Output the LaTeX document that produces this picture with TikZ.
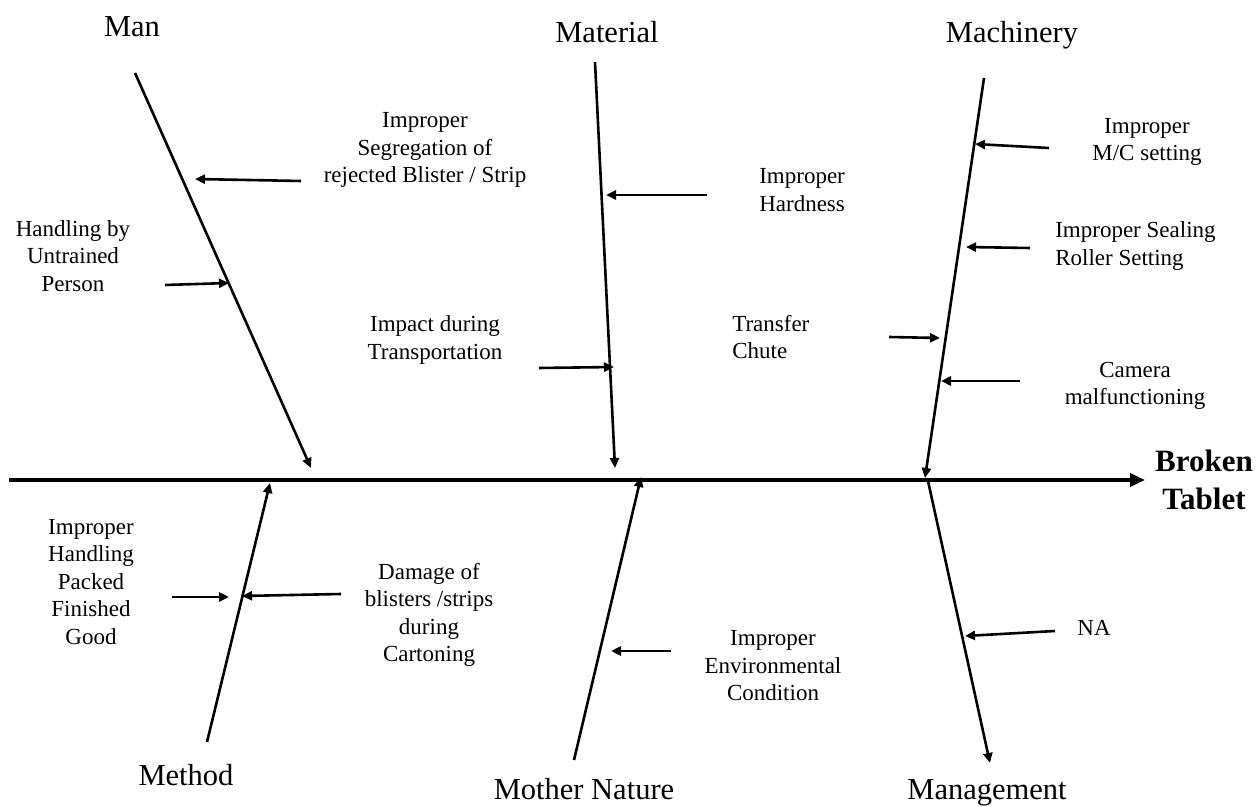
\documentclass[tikz,border=0pt]{standalone}
\usepackage{fontspec}
\setmainfont{Liberation Serif}
\usetikzlibrary{arrows.meta}

\begin{document}
\begin{tikzpicture}[->, >={Triangle[length=5pt,width=4.5pt]}, x=0.5pt, y=-0.5pt, line width=1.3pt]
        \tikzset{
           category/.style={
                        anchor=base,
                        inner sep=0pt,
                        text=black,
                        font=\fontsize{15.25}{18}\selectfont
                       },
           cause/.style={
                        align=center,
                        inner sep=0pt,
                        text=black,
                        font=\fontsize{11.5}{13.75}\selectfont
                       },
           causeLeft/.style={
                        cause,
                        align=left,
                        anchor=west
                       },
           effect/.style={
                        align=center,
                        inner sep=0pt,
                        text=black,
                        font=\fontsize{15.5}{19}\selectfont\bfseries
                       },
           spine/.style={
                        line width=1.8pt,
                        -{Triangle[length=7.5pt,width=6.5pt]}
                       },
                 };
        \useasboundingbox (0,0) rectangle (1258,807);
    %--------------------
        \node[category]  (man)       at (132,37)   {Man};
        \node[category]  (material)  at (607,43)   {Material};
        \node[category]  (machinery) at (1012,43)  {Machinery};
        \node[category]  (method)    at (186,785)  {Method};
        \node[category]  (nature)    at (584,799)  {Mother Nature};
        \node[category]  (mgmt)      at (987,799)  {Management};
        \node[effect]    (broken)    at (1204,480) {Broken\\Tablet};

        \node[cause]     (segregation) at (425,150)  {Improper\\Segregation of\\rejected Blister / Strip};
        \node[cause]     (untrained)   at (73,256)   {Handling by\\Untrained\\Person};
        \node[causeLeft] (hardness)    at (758,190)  {Improper\\Hardness};
        \node[cause]     (impact)      at (435,340)  {Impact during\\Transportation};
        \node[cause]     (mcSetting)   at (1147,142) {Improper\\M/C setting};
        \node[causeLeft] (sealing)     at (1054,246) {Improper Sealing\\Roller Setting};
        \node[causeLeft] (chute)       at (731,337)  {Transfer\\Chute};
        \node[cause]     (camera)      at (1135,386) {Camera\\malfunctioning};
        \node[cause]     (packed)      at (91,582)   {Improper\\Handling\\Packed\\Finished\\Good};
        \node[cause]     (cartoning)   at (429,615)  {Damage of\\blisters /strips\\during\\Cartoning};
        \node[cause]     (environment) at (773,666)  {Improper\\Environmental\\Condition};
        \node[cause]     (na)          at (1094,628) {NA};
    %--------------------
        \coordinate (tail)    at (9,480);
        \coordinate (head)    at (1145,480);

        \coordinate (manTop)  at (135,73);
        \coordinate (manTip)  at (311,468);
        \coordinate (matTop)  at (595,62);
        \coordinate (matTip)  at (615,468);
        \coordinate (macTop)  at (984,78);
        \coordinate (macTip)  at (925,478);
        \coordinate (metBot)  at (207,742);
        \coordinate (metTip)  at (270,483);
        \coordinate (natBot)  at (574,760);
        \coordinate (natTip)  at (641,477);
        \coordinate (mgtTop)  at (928,481);
        \coordinate (mgtTip)  at (990,763);

        \coordinate (segFrom) at (301,181);   \coordinate (segTo) at (195,179);
        \coordinate (utrFrom) at (165,285);   \coordinate (utrTo) at (229,283);
        \coordinate (hrdFrom) at (707,195);   \coordinate (hrdTo) at (606,195);
        \coordinate (impFrom) at (539,368);   \coordinate (impTo) at (614,367);
        \coordinate (mcsFrom) at (1049,148);  \coordinate (mcsTo) at (975,144);
        \coordinate (sealFrom) at (1030,248); \coordinate (sealTo) at (966,247);
        \coordinate (chtFrom) at (889,337);   \coordinate (chtTo) at (940,338);
        \coordinate (camFrom) at (1020,381);  \coordinate (camTo) at (941,381);
        \coordinate (pckFrom) at (172,597);   \coordinate (pckTo) at (229,597);
        \coordinate (crtFrom) at (341,594);   \coordinate (crtTo) at (242,596);
        \coordinate (envFrom) at (671,651);   \coordinate (envTo) at (611,651);
        \coordinate (naFrom)  at (1055,631);  \coordinate (naTo)  at (965,636);
    %--------------------
        \path (tail)     edge[spine] (head)

              (manTop)   edge (manTip)
              (matTop)   edge (matTip)
              (macTop)   edge (macTip)
              (metBot)   edge (metTip)
              (natBot)   edge (natTip)
              (mgtTop)   edge (mgtTip)

              (segFrom)  edge (segTo)
              (utrFrom)  edge (utrTo)
              (hrdFrom)  edge (hrdTo)
              (impFrom)  edge (impTo)
              (mcsFrom)  edge (mcsTo)
              (sealFrom) edge (sealTo)
              (chtFrom)  edge (chtTo)
              (camFrom)  edge (camTo)
              (pckFrom)  edge (pckTo)
              (crtFrom)  edge (crtTo)
              (envFrom)  edge (envTo)
              (naFrom)   edge (naTo);
    \end{tikzpicture}
\end{document}
